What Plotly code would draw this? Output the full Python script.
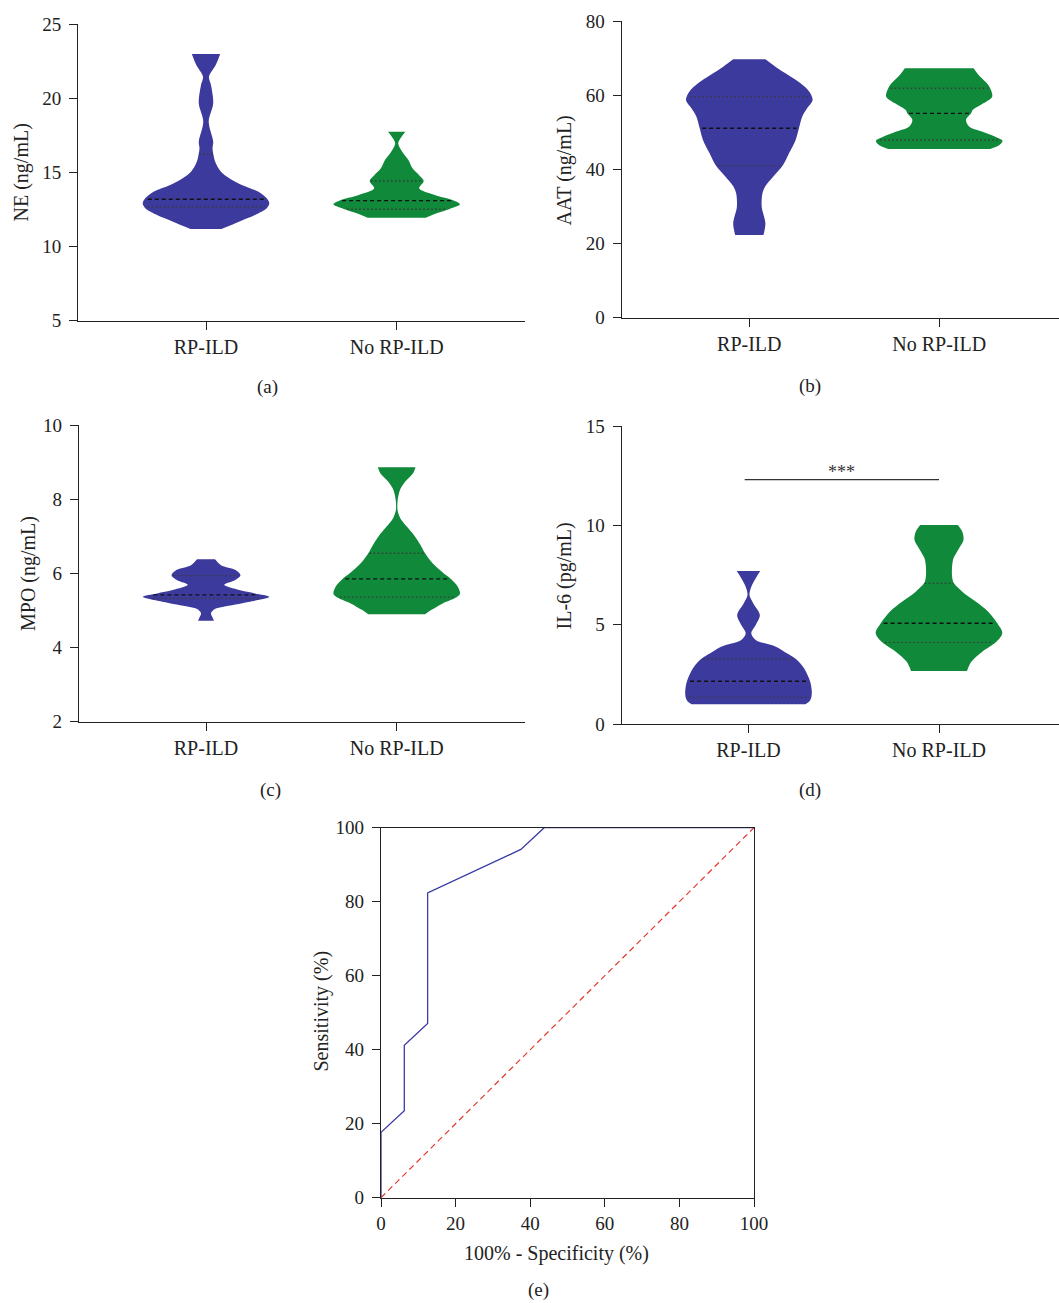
import numpy as np
import plotly.graph_objects as go

W, H = 1059, 1303
FONT = "Liberation Serif"
INK = "#222222"
BLUE = "#3d3a9d"
GREEN = "#10893a"

CATEGORIES = ["RP-ILD", "No RP-ILD"]

# ---- violin density profiles (value level, relative half-width) ----
NE_RP_Y = [11.19, 11.68, 12.13, 12.58, 12.92, 13.26, 13.70, 14.16, 14.61, 15.05, 15.73,
           16.18, 16.63, 17.08, 18.43, 19.67, 20.90, 21.46, 22.25, 23.0]
NE_RP_W = [0.245, 0.521, 0.774, 0.96, 1.0, 0.96, 0.829, 0.566, 0.368, 0.237, 0.145,
           0.118, 0.103, 0.114, 0.043, 0.114, 0.079, 0.047, 0.153, 0.224]
NE_RP_Q = [12.67, 13.19, 16.23]

NE_NO_Y = [11.95, 12.25, 12.54, 12.85, 13.10, 13.48, 13.93, 14.43, 14.83, 15.28, 15.84,
           16.40, 16.97, 17.35, 17.75]
NE_NO_W = [0.458, 0.632, 0.837, 1.0, 0.908, 0.60, 0.355, 0.427, 0.351, 0.25, 0.185,
           0.087, 0.024, 0.066, 0.137]
NE_NO_Q = [12.52, 13.10, 14.43]

AAT_RP_Y = [22.3, 25.46, 29.93, 33.55, 35.33, 38.02, 41.18, 44.33, 47.92, 51.07, 54.20,
            56.46, 58.70, 60.94, 63.20, 65.44, 67.68, 69.67]
AAT_RP_W = [0.223, 0.254, 0.196, 0.208, 0.248, 0.376, 0.533, 0.627, 0.732, 0.784, 0.835,
            0.914, 1.0, 0.948, 0.81, 0.614, 0.412, 0.255]
AAT_RP_Q = [41.0, 51.07, 59.6]

AAT_NO_Y = [45.5, 46.57, 47.73, 48.8, 50.15, 51.5, 53.3, 55.1, 56.0, 57.81, 59.6,
            61.85, 63.20, 65.44, 67.25]
AAT_NO_W = [0.806, 0.952, 1.0, 0.886, 0.687, 0.476, 0.424, 0.503, 0.529, 0.698, 0.837,
            0.806, 0.754, 0.622, 0.543]
AAT_NO_Q = [47.92, 55.1, 61.85]

MPO_RP_Y = [4.72, 4.82, 4.93, 5.04, 5.10, 5.23, 5.37, 5.46, 5.55, 5.69, 5.82, 5.95,
            6.09, 6.22, 6.38]
MPO_RP_W = [0.126, 0.10, 0.079, 0.14, 0.276, 0.671, 1.0, 0.774, 0.526, 0.289, 0.461,
            0.545, 0.469, 0.237, 0.142]
MPO_RP_Q = [5.32, 5.42, 5.94]

MPO_NO_Y = [4.90, 5.01, 5.19, 5.37, 5.46, 5.64, 5.85, 6.0, 6.27, 6.54, 6.76, 6.99,
            7.26, 7.48, 7.71, 7.98, 8.25, 8.47, 8.70, 8.86]
MPO_NO_W = [0.449, 0.543, 0.727, 0.957, 1.0, 0.965, 0.857, 0.741, 0.568, 0.449, 0.378,
            0.29, 0.159, 0.059, 0.013, 0.016, 0.052, 0.132, 0.259, 0.298]
MPO_NO_Q = [5.36, 5.85, 6.54]

IL6_RP_Y = [1.0, 1.15, 1.33, 1.63, 2.13, 2.81, 3.27, 3.56, 3.89, 4.23, 4.57, 4.98,
            5.49, 6.08, 6.49, 6.91, 7.34, 7.70]
IL6_RP_W = [0.90, 0.964, 0.992, 1.0, 0.975, 0.877, 0.75, 0.605, 0.434, 0.114, 0.044,
            0.114, 0.179, 0.074, 0.016, 0.044, 0.114, 0.185]
IL6_RP_Q = [1.34, 2.15, 3.27]

IL6_NO_Y = [2.67, 3.14, 3.64, 4.11, 4.57, 5.07, 5.65, 6.16, 6.66, 7.08, 7.34, 7.84,
            8.34, 8.84, 9.26, 9.68, 10.02]
IL6_NO_W = [0.442, 0.513, 0.684, 0.896, 1.0, 0.921, 0.777, 0.58, 0.368, 0.237, 0.21,
            0.205, 0.229, 0.316, 0.387, 0.368, 0.297]
IL6_NO_Q = [4.11, 5.07, 7.08]

SIG_LEVEL = 12.3
SIG_LABEL = "***"

# ---- ROC ----
ROC_FPR = [0, 0, 6.25, 6.25, 12.5, 12.5, 37.5, 43.75, 100]
ROC_TPR = [0, 17.65, 23.53, 41.18, 47.06, 82.35, 94.12, 100, 100]
REF_LINE = [0, 100]

PANELS = [
    dict(key="a", ytitle="NE (ng/mL)", yrange=[5, 25], ydtick=5,
         data=[(NE_RP_Y, NE_RP_W, NE_RP_Q), (NE_NO_Y, NE_NO_W, NE_NO_Q)],
         xpx=(78.3, 525), ypx=(24.3, 320.7), tick_x=(206, 396.7),
         title_px=(21, 172.5), letter_px=(267, 387)),
    dict(key="b", ytitle="AAT (ng/mL)", yrange=[0, 80], ydtick=20,
         data=[(AAT_RP_Y, AAT_RP_W, AAT_RP_Q), (AAT_NO_Y, AAT_NO_W, AAT_NO_Q)],
         xpx=(621.8, 1059), ypx=(21, 317.7), tick_x=(749.3, 939.2),
         title_px=(564.6, 170.8), letter_px=(810, 386)),
    dict(key="c", ytitle="MPO (ng/mL)", yrange=[2, 10], ydtick=2,
         data=[(MPO_RP_Y, MPO_RP_W, MPO_RP_Q), (MPO_NO_Y, MPO_NO_W, MPO_NO_Q)],
         xpx=(79, 525), ypx=(425, 721.7), tick_x=(206, 396.7),
         title_px=(28, 574), letter_px=(270, 790)),
    dict(key="d", ytitle="IL-6 (pg/mL)", yrange=[0, 15], ydtick=5,
         data=[(IL6_RP_Y, IL6_RP_W, IL6_RP_Q), (IL6_NO_Y, IL6_NO_W, IL6_NO_Q)],
         xpx=(621.7, 1059), ypx=(426, 724), tick_x=(748.5, 939),
         title_px=(564.7, 575.8), letter_px=(810, 790)),
]

COLORS = [BLUE, GREEN]


def px2paper(x, y):
    return x / W, 1 - y / H


fig = go.Figure()
layout = dict(width=W, height=H, margin=dict(l=0, r=0, t=0, b=0, pad=0, autoexpand=False),
              paper_bgcolor="white", plot_bgcolor="white", showlegend=False,
              font=dict(family=FONT, color=INK))
annotations = []

axis_common = dict(showline=True, linecolor=INK, linewidth=1.3, ticks="outside",
                   ticklen=8, tickwidth=1.3, tickcolor=INK, showgrid=False,
                   zeroline=False, automargin=False,
                   tickfont=dict(family=FONT, size=19, color=INK))

for i, p in enumerate(PANELS):
    n = i + 1
    xa = "x" if n == 1 else f"x{n}"
    ya = "y" if n == 1 else f"y{n}"
    x0, x1 = p["xpx"]
    ytop, ybot = p["ypx"]
    c0, c1 = p["tick_x"]
    unit = c1 - c0
    xr = [(x0 - c0) / unit, (x1 - c0) / unit]
    maxhalf = 63.3 / unit
    layout["xaxis" if n == 1 else f"xaxis{n}"] = dict(
        axis_common, domain=[x0 / W, x1 / W], range=xr, anchor=ya,
        tickvals=[0, 1], ticktext=CATEGORIES, tickfont=dict(family=FONT, size=20, color=INK),
        ticklabelstandoff=0)
    layout["yaxis" if n == 1 else f"yaxis{n}"] = dict(
        axis_common, domain=[1 - ybot / H, 1 - ytop / H], range=p["yrange"], anchor=xa,
        dtick=p["ydtick"], tick0=0, ticklabelstandoff=4)

    for k, (ys, ws, qs) in enumerate(p["data"]):
        ys = np.asarray(ys, float)
        ws = np.asarray(ws, float) * maxhalf
        fig.add_trace(go.Scatter(x=k - ws, y=ys, mode="lines", line=dict(width=0, shape="spline", smoothing=0.9),
                                 xaxis=xa, yaxis=ya, hoverinfo="skip"))
        fig.add_trace(go.Scatter(x=k + ws, y=ys, mode="lines", line=dict(width=0, shape="spline", smoothing=0.9),
                                 fill="tonextx", fillcolor=COLORS[k], xaxis=xa, yaxis=ya, hoverinfo="skip"))
        for j, q in enumerate(qs):
            hw = float(np.interp(q, ys, ws)) * 0.95
            dash = "4px,3px" if j == 1 else "1.5px,2.5px"
            col = "#111111" if j == 1 else "#3a3a3a"
            fig.add_trace(go.Scatter(x=[k - hw, k + hw], y=[q, q], mode="lines",
                                     line=dict(color=col, width=1.4, dash=dash),
                                     xaxis=xa, yaxis=ya, hoverinfo="skip"))

    tx, ty = px2paper(*p["title_px"])
    annotations.append(dict(text=p["ytitle"], x=tx, y=ty, xref="paper", yref="paper",
                            showarrow=False, textangle=-90, font=dict(size=20, family=FONT, color=INK),
                            xanchor="center", yanchor="middle"))
    lx, ly = px2paper(*p["letter_px"])
    annotations.append(dict(text=f"({p['key']})", x=lx, y=ly, xref="paper", yref="paper",
                            showarrow=False, font=dict(size=19, family=FONT, color=INK),
                            xanchor="center", yanchor="middle"))

# significance bar in (d)
fig.add_trace(go.Scatter(x=[-0.02, 1.0], y=[SIG_LEVEL, SIG_LEVEL], mode="lines",
                         line=dict(color="#333333", width=1.3), xaxis="x4", yaxis="y4", hoverinfo="skip"))
annotations.append(dict(text=SIG_LABEL, x=0.49, y=SIG_LEVEL, xref="x4", yref="y4", showarrow=False,
                        yanchor="bottom", yshift=-4, font=dict(size=18, family=FONT, color="#333333")))

# ROC panel (e)
ex0, ex1, ey0, ey1 = 381, 754, 827.7, 1197.7
layout["xaxis5"] = dict(axis_common, domain=[ex0 / W, ex1 / W], range=[0, 100], anchor="y5",
                        dtick=20, mirror=True, ticklabelstandoff=0)
layout["yaxis5"] = dict(axis_common, domain=[1 - ey1 / H, 1 - ey0 / H], range=[0, 100], anchor="x5",
                        dtick=20, mirror=True, ticklabelstandoff=4)
fig.add_trace(go.Scatter(x=REF_LINE, y=REF_LINE, mode="lines",
                         line=dict(color="#e4382c", width=1.2, dash="6px,4px"),
                         xaxis="x5", yaxis="y5", hoverinfo="skip"))
fig.add_trace(go.Scatter(x=ROC_FPR, y=ROC_TPR, mode="lines",
                         line=dict(color="#3b3aa6", width=1.3),
                         xaxis="x5", yaxis="y5", hoverinfo="skip"))

for text, xp, yp, ang in [("Sensitivity (%)", 321.7, 1010.8, -90),
                          ("100% - Specificity (%)", 556.5, 1253, 0),
                          ("(e)", 538.3, 1290, 0)]:
    ax_, ay_ = px2paper(xp, yp)
    annotations.append(dict(text=text, x=ax_, y=ay_, xref="paper", yref="paper", showarrow=False,
                            textangle=ang, xanchor="center", yanchor="middle",
                            font=dict(size=20 if text != "(e)" else 19, family=FONT, color=INK)))

layout["annotations"] = annotations
fig.update_layout(**layout)
fig.write_html("out.html", config={"displayModeBar": False},
               post_script="document.body.style.margin='0';document.body.style.padding='0';"
                           "document.body.style.overflow='hidden';")
